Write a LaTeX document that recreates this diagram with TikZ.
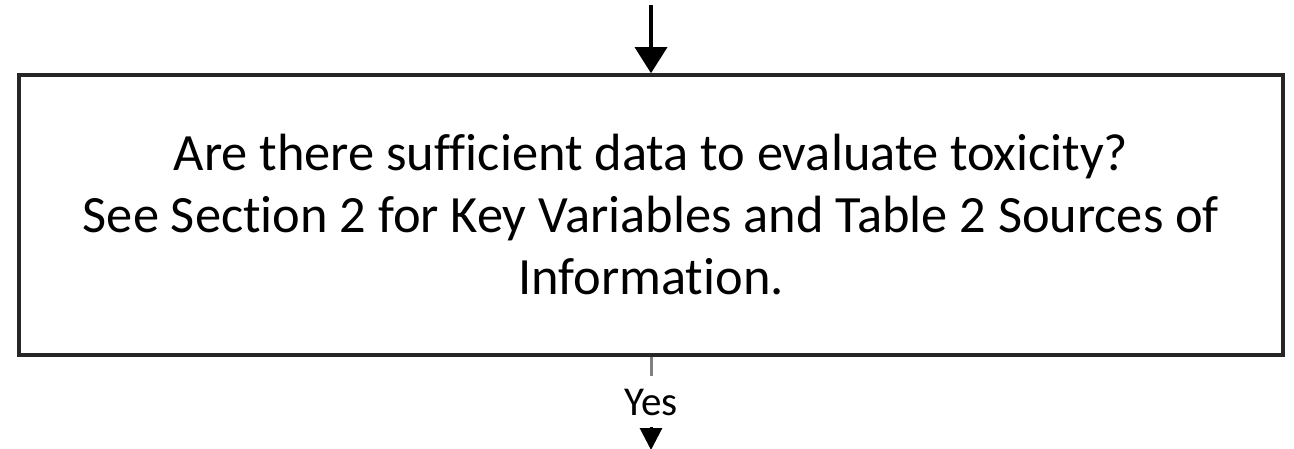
\documentclass[tikz,border=0pt]{standalone}
\usepackage{fontspec}
\setmainfont{Carlito}[Ligatures=NoCommon]
\usetikzlibrary{arrows.meta}

\begin{document}
\begin{tikzpicture}[x=0.5pt,y=-0.5pt,
  qbox/.style={draw=black!85, line width=1.8pt, minimum width=632pt, minimum height=140pt,
    align=center, font=\fontsize{26.2}{31}\selectfont},
  flow/.style={line width=1.7pt, -{Triangle[width=16pt,length=13pt]}}]
\useasboundingbox (0,0) rectangle (1294,449);

% question box
\node[qbox] (q) at (651,215) {Are there sufficient data to evaluate toxicity?\\
  See Section 2 for Key Variables and Table 2 Sources of\\ Information.};

% incoming arrow
\coordinate (in) at (651,5);
\draw[flow] (in) -- (q.north);

% yes branch
\node[font=\fontsize{20.5}{22}\selectfont, inner sep=1pt] (yes) at (651,402) {Yes};
\draw[gray, line width=1.5pt, shorten >=5pt] (q.south) -- (yes.north);
\coordinate (yestop) at (651,427);
\coordinate (out) at (651,450);
\draw[line width=1.5pt, -{Triangle[width=11pt,length=11pt]}] (yestop) -- (out);
\end{tikzpicture}
\end{document}
